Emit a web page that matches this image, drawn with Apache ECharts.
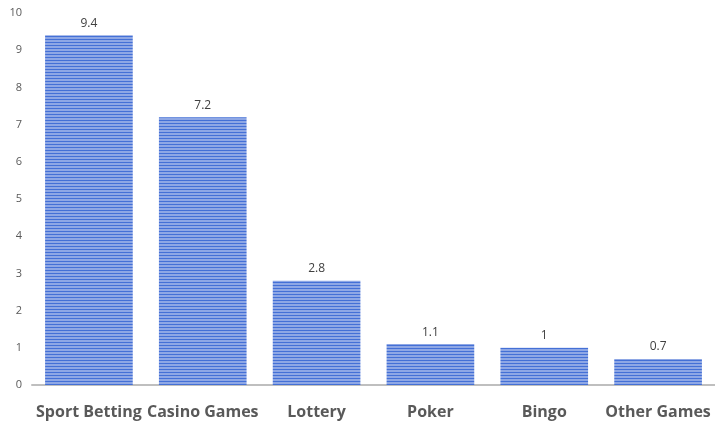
<!DOCTYPE html>
<html>
<head>
<meta charset="utf-8">
<script src="https://cdn.jsdelivr.net/npm/echarts@6/dist/echarts.min.js"></script>
<style>
  html, body { margin: 0; padding: 0; background: #ffffff; }
  #chart { width: 715px; height: 425px; }
</style>
</head>
<body>
<div id="chart"></div>
<script>
const categories = ['Sport Betting', 'Casino Games', 'Lottery', 'Poker', 'Bingo', 'Other Games'];
const values = [9.4, 7.2, 2.8, 1.1, 1, 0.7];

// Horizontal stripe fill for the bars
function stripePattern() {
  const c = document.createElement('canvas');
  c.width = 4;
  c.height = 3;
  const ctx = c.getContext('2d');
  ctx.fillStyle = '#8ea7e5';
  ctx.fillRect(0, 0, 4, 3);
  ctx.fillStyle = '#4470d6';
  ctx.fillRect(0, 0, 4, 1);
  return c;
}

const chart = echarts.init(document.getElementById('chart'), null, { renderer: 'canvas' });
chart.setOption({
  animation: false,
  grid: { left: 32, right: 0, top: 13, bottom: 40, containLabel: false },
  xAxis: {
    type: 'category',
    data: categories,
    axisLine: { show: true, lineStyle: { color: '#bfbfbf', width: 2 } },
    axisTick: { show: false },
    axisLabel: {
      color: '#595959',
      fontSize: 16,
      fontWeight: 'bold',
      fontFamily: 'Open Sans',
      margin: 19,
      interval: 0
    }
  },
  yAxis: {
    type: 'value',
    min: 0,
    max: 10,
    interval: 1,
    axisLine: { show: false },
    axisTick: { show: false },
    splitLine: { show: false },
    axisLabel: { color: '#595959', fontSize: 11, fontFamily: 'Open Sans', margin: 10 }
  },
  series: [{
    type: 'bar',
    data: values,
    barCategoryGap: '23%',
    itemStyle: { color: { image: stripePattern(), repeat: 'repeat' } },
    label: {
      show: true,
      position: 'top',
      distance: 6,
      color: '#404040',
      fontSize: 12,
      fontFamily: 'Open Sans'
    }
  }]
});
</script>
</body>
</html>
